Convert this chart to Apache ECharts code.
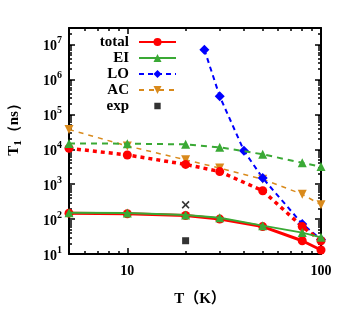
<!DOCTYPE html>
<html><head><meta charset="utf-8">
<script src="https://cdn.jsdelivr.net/npm/echarts@6/dist/echarts.min.js"></script>
<style>html,body{margin:0;padding:0;background:#fff}#c{width:354px;height:313px}</style>
</head><body><div id="c"></div>
<script>
const temps = [5, 10, 20, 30, 50, 80, 100];
const totalSolid = [148, 142, 127, 100, 61, 24, 13];
const totalDashed = [10700, 6900, 3700, 2300, 650, 61, 24];
const eiSolid = [152, 150, 132, 109, 65, 41, 30];
const eiDashed = [14800, 14500, 13900, 11400, 7200, 4100, 3200];
const loTemps = [25, 30, 40, 50, 80, 100];
const loValues = [7.2e6, 3.3e5, 9100, 1500, 73, 26];
const acValues = [37000, 12500, 5000, 2900, 1390, 518, 256];
const expTemps = [20];
const expSquare = [24];
const expCross = [256];

const xMajor = [10, 100];
const yMajor = [10, 100, 1000, 1e4, 1e5, 1e6, 1e7];
const xMinor = [6, 7, 8, 9, 20, 30, 40, 50, 60, 70, 80, 90];
const yMinor = [];
[10, 100, 1000, 1e4, 1e5, 1e6, 1e7].forEach(d => { for (let k = 2; k <= 9; k++) { if (k * d <= 3e7) yMinor.push(k * d); } });

const zip = (xs, ys) => xs.map((x, i) => [x, ys[i]]);
const FONT = "'Liberation Serif', 'Times New Roman', serif";
const RED = '#ff0000', GREEN = '#3aa935', BLUE = '#0000ff', ORANGE = '#d98a1c';
const CROSS = 'path://M0,1.5L1.5,0L5,3.5L8.5,0L10,1.5L6.5,5L10,8.5L8.5,10L5,6.5L1.5,10L0,8.5L3.5,5Z';
const SQUARE_ICON = 'path://M-2,-2L-2,-2Z M0,0L7,0L7,7L0,7Z M9,9L9,9Z';

function xAx(pos, ticks, len, showLine, showLabel) {
  return {
    type: 'log', position: pos, min: 5, max: 100, logBase: 10,
    axisLine: { show: showLine, lineStyle: { color: '#000', width: 2 } },
    axisTick: { show: true, inside: true, length: len, customValues: ticks, lineStyle: { color: '#000', width: 1.5 } },
    axisLabel: showLabel ? { show: true, customValues: xMajor, margin: 10, color: '#000', fontFamily: FONT, fontWeight: 'bold', fontSize: 14 } : { show: false },
    splitLine: { show: false }, minorTick: { show: false }
  };
}
function yAx(pos, ticks, len, showLine, showLabel) {
  return {
    type: 'log', position: pos, min: 10, max: 3e7, logBase: 10,
    axisLine: { show: showLine, lineStyle: { color: '#000', width: 2 } },
    axisTick: { show: true, inside: true, length: len, customValues: ticks, lineStyle: { color: '#000', width: 1.5 } },
    axisLabel: showLabel ? {
      show: true, customValues: yMajor, margin: 7, color: '#000',
      formatter: v => '{b|10}{s|' + Math.round(Math.log10(v)) + '}',
      rich: {
        b: { fontFamily: FONT, fontWeight: 'bold', fontSize: 14, lineHeight: 18, verticalAlign: 'bottom', color: '#000' },
        s: { fontFamily: FONT, fontWeight: 'bold', fontSize: 10, lineHeight: 10, verticalAlign: 'top', color: '#000' }
      }
    } : { show: false },
    splitLine: { show: false }, minorTick: { show: false }
  };
}

const chart = echarts.init(document.getElementById('c'), null, { renderer: 'canvas' });
chart.setOption({
  backgroundColor: '#fff',
  animation: false,
  grid: { left: 69, right: 33, top: 28, bottom: 59, containLabel: false },
  xAxis: [
    xAx('bottom', xMajor, 6, true, true),
    xAx('bottom', xMinor, 3, false, false),
    xAx('top', xMajor, 6, true, false),
    xAx('top', xMinor, 3, false, false)
  ],
  yAxis: [
    yAx('left', yMajor, 6, true, true),
    yAx('left', yMinor, 3, false, false),
    yAx('right', yMajor, 6, true, false),
    yAx('right', yMinor, 3, false, false)
  ],
  legend: {
    data: ['total', 'EI', 'LO', 'AC', { name: 'exp', icon: SQUARE_ICON }],
    orient: 'vertical', align: 'right', right: 177, top: 34, padding: 0,
    itemWidth: 37, itemHeight: 10, itemGap: 0,
    textStyle: { fontFamily: FONT, fontWeight: 'bold', fontSize: 15, lineHeight: 16, color: '#000', padding: [0, 5, 0, 0] }
  },
  graphic: [
    { type: 'text', x: 14, y: 126, rotation: Math.PI / 2,
      style: { text: '{a|T}{s|1}{a|（ns）}', align: 'center', verticalAlign: 'middle',
        rich: {
          a: { fontFamily: FONT, fontWeight: 'bold', fontSize: 15, lineHeight: 20, verticalAlign: 'middle', fill: '#000' },
          s: { fontFamily: FONT, fontWeight: 'bold', fontSize: 11, lineHeight: 11, verticalAlign: 'bottom', fill: '#000' }
        } } },
    { type: 'text', x: 200, y: 299,
      style: { text: 'T（K）', align: 'center', verticalAlign: 'middle', font: "bold 15px 'Liberation Serif', 'Noto Sans CJK SC', serif", fill: '#000' } }
  ],
  series: [
    { name: 'AC', type: 'line', data: zip(temps, acValues), symbol: 'triangle', symbolRotate: 180, symbolSize: 9,
      lineStyle: { color: ORANGE, width: 1.5, type: [5, 5] }, itemStyle: { color: ORANGE }, z: 2 },
    { name: 'LO', type: 'line', data: zip(loTemps, loValues), symbol: 'diamond', symbolSize: 10,
      lineStyle: { color: BLUE, width: 2, type: [5, 4] }, itemStyle: { color: BLUE }, z: 2 },
    { name: 'total-dashed', type: 'line', data: zip(temps, totalDashed), symbol: 'circle', symbolSize: 9,
      lineStyle: { color: RED, width: 3.5, type: [4, 4] }, itemStyle: { color: RED }, z: 3 },
    { name: 'EI-dashed', type: 'line', data: zip(temps, eiDashed), symbol: 'triangle', symbolSize: 9,
      lineStyle: { color: GREEN, width: 2, type: [6, 5] }, itemStyle: { color: GREEN }, z: 3 },
    { name: 'total', type: 'line', data: zip(temps, totalSolid), symbol: 'circle', symbolSize: 9,
      lineStyle: { color: RED, width: 3 }, itemStyle: { color: RED }, z: 4 },
    { name: 'EI', type: 'line', data: zip(temps, eiSolid), symbol: 'triangle', symbolSize: 9,
      lineStyle: { color: GREEN, width: 2 }, itemStyle: { color: GREEN }, z: 5 },
    { name: 'exp', type: 'scatter', data: zip(expTemps, expSquare), symbol: 'rect', symbolSize: 7,
      itemStyle: { color: '#000' }, z: 6 },
    { name: 'exp-cross', type: 'scatter', data: zip(expTemps, expCross), symbol: CROSS, symbolSize: 8,
      itemStyle: { color: '#000' }, z: 6 }
  ]
});
</script></body></html>
